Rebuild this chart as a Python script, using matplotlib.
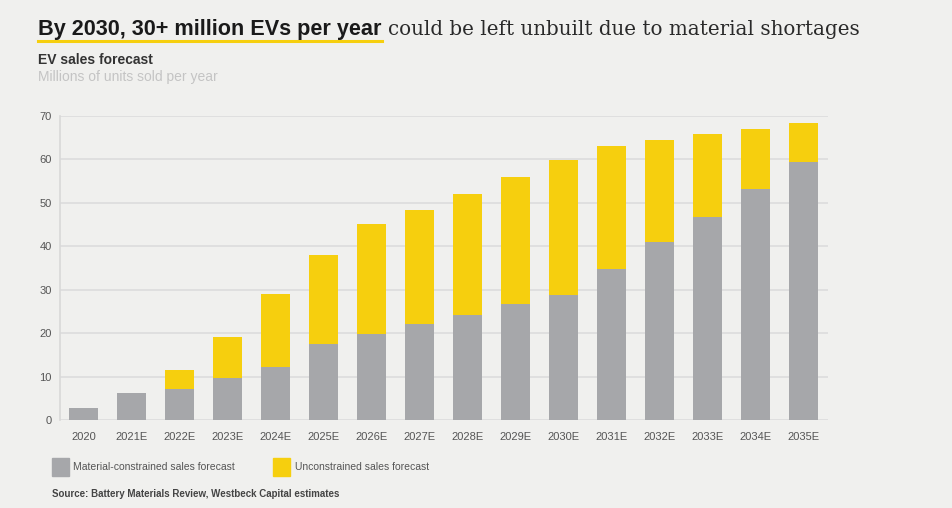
import numpy as np
import matplotlib
matplotlib.use("Agg")
from matplotlib import pyplot as plt
from matplotlib.lines import Line2D

years = ['2020', '2021E', '2022E', '2023E', '2024E', '2025E', '2026E', '2027E',
         '2028E', '2029E', '2030E', '2031E', '2032E', '2033E', '2034E', '2035E']
constrained = [2.8, 6.3, 7.1, 9.7, 12.3, 17.4, 19.8, 22.1,
               24.2, 26.6, 28.8, 34.8, 40.9, 46.8, 53.2, 59.5]
unconstrained_total = [2.8, 6.3, 11.4, 19.0, 28.9, 38.1, 45.1, 48.4,
                       52.0, 55.9, 59.9, 63.2, 64.4, 65.8, 67.1, 68.3]
yticks = [0, 10, 20, 30, 40, 50, 60, 70]

GREY = '#a6a7aa'
YELLOW = '#f6cf0e'
BG = '#f0f0ee'
W, H = 953, 508

plt.rcParams['font.family'] = ['Liberation Sans', 'DejaVu Sans']

fig = plt.figure(figsize=(W / 100, H / 100), dpi=100, facecolor=BG)


def fx(px):
    return px / W


def fy(py):
    return 1 - py / H


# chart area
ax = fig.add_axes([fx(60), fy(420), fx(828) - fx(60), fy(116) - fy(420)])
ax.set_facecolor(BG)
x = np.arange(len(years))
extra = np.array(unconstrained_total) - np.array(constrained)
ax.bar(x, constrained, width=0.6, color=GREY, zorder=3)
ax.bar(x, extra, bottom=constrained, width=0.6, color=YELLOW, zorder=3)
ax.set_xlim(-0.49, 15.51)
ax.set_ylim(0, 70)
ax.set_yticks(yticks)
ax.set_xticks(x, labels=years)
ax.yaxis.grid(True, color='#dcdcdc', linewidth=1.2, zorder=0)
ax.tick_params(length=0, labelsize=8, labelcolor='#555555')
ax.tick_params(axis='y', pad=6)
ax.tick_params(axis='x', pad=9)
for side in ['top', 'right', 'bottom']:
    ax.spines[side].set_visible(False)
ax.spines['left'].set_color('#d8d8d8')
ax.spines['left'].set_linewidth(1.2)

# title: bold sans part, underlined, then serif part
renderer = fig.canvas.get_renderer()
t1 = fig.text(fx(38), fy(35), 'By 2030, 30+ million EVs per year', fontsize=15.6,
              fontweight='bold', color='#1a1a1a', va='baseline')
bb = t1.get_window_extent(renderer=renderer)
fig.text((bb.x1 + 7) / W, fy(35), 'could be left unbuilt due to material shortages',
         fontsize=14.3, family=['DejaVu Serif'], color='#2a2a2a', va='baseline')
fig.add_artist(Line2D([bb.x0 / W, bb.x1 / W], [fy(40.5), fy(40.5)], color=YELLOW, linewidth=2.2))

fig.text(fx(38), fy(64), 'EV sales forecast', fontsize=10, fontweight='bold', color='#333333', va='baseline')
fig.text(fx(38), fy(81), 'Millions of units sold per year', fontsize=10, color='#c4c4c4', va='baseline')

# legend
fig.add_artist(plt.Rectangle((fx(52), fy(476)), fx(17), fy(458) - fy(476), color=GREY))
fig.text(fx(73), fy(467), 'Material-constrained sales forecast', fontsize=7.5, color='#555555', va='center')
fig.add_artist(plt.Rectangle((fx(273), fy(476)), fx(17), fy(458) - fy(476), color=YELLOW))
fig.text(fx(295), fy(467), 'Unconstrained sales forecast', fontsize=7.5, color='#555555', va='center')

fig.text(fx(52), fy(494), 'Source: Battery Materials Review, Westbeck Capital estimates', fontsize=7,
         fontweight='bold', color='#444444', va='center')

fig.savefig('out.png', dpi=100, facecolor=BG)
